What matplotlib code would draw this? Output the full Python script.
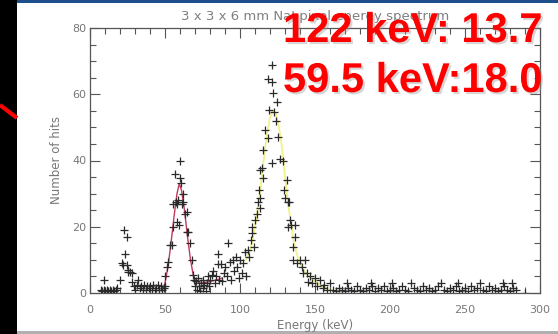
import matplotlib
matplotlib.use("Agg")
import matplotlib.pyplot as plt
import matplotlib.patheffects as pe
from matplotlib.patches import Rectangle
from matplotlib.lines import Line2D
from matplotlib.ticker import MultipleLocator

energy = [7, 8, 9, 9.5, 10, 11, 12, 13, 14, 15, 16, 17, 18,
          20, 21.5, 22, 22.9, 23.3, 24.4, 24.4, 25, 25.3, 26.7, 27.8, 28,
          29, 30, 31, 32, 33, 34, 35, 36, 37, 38, 39, 40, 41, 42, 43, 44,
          45, 46, 47, 48, 49, 50,
          50, 51.6, 52, 53.3, 54.4, 55, 55.6, 56.7, 57, 57.8, 58.2, 58.5,
          59, 60, 60, 60.7, 61, 61.8, 62, 63.3, 64.4, 64.9, 65.5, 66.7,
          67.8, 68.9, 69.5,
          70, 70.5, 71, 72, 72.5, 73, 74, 75, 75.5, 76, 77, 78, 78.5, 79,
          80, 81, 82.2, 83, 84, 85, 85.5, 86, 87, 88, 89, 90, 91, 92.2,
          93.3, 94, 95, 96, 97, 98, 99, 100, 101, 102, 103.3, 104, 105,
          106, 107, 107.8, 108, 109, 110, 111, 112.2,
          112.9, 113.3, 113.3, 113.3, 114.4, 115.1, 115.6, 116.7, 118.9,
          118.9, 119.6, 121.1, 121, 121.1, 121.8, 122.7, 124, 124.9, 125.6,
          126.7, 128.9, 129, 130, 131, 132, 132.9, 133.3, 132, 134, 136.7,
          136.7, 135.6, 135.6, 137.8, 140, 141.1, 142, 143.3, 144.4, 145,
          146.7, 148, 150, 151, 153.3, 155, 156, 158, 160,
          162, 164, 166, 168, 170, 171, 172, 174, 176, 178, 180, 182, 184,
          186, 187, 188, 190, 192, 194, 196, 198, 200, 201, 202, 204, 206,
          208, 210, 212, 214, 216, 218, 220, 222, 224, 226, 228, 230, 232,
          234, 236, 238, 240, 242, 244, 245, 246, 248, 250, 252, 254, 256,
          258, 260, 262, 264, 266, 268, 270, 272, 274, 275, 276, 278, 280,
          281, 282, 284, 290]
hits = [1, 0.5, 1, 4, 0.5, 1, 0.5, 1, 0.5, 1, 0.5, 1, 1.5,
        4, 9, 8.5, 19, 11.7, 17, 8.5, 7, 6.4, 6.3, 3.3, 6,
        2, 1, 2.5, 4, 1.5, 2, 1, 2.5, 1, 2, 1.5, 2, 1, 2.5, 1, 1.5,
        2.5, 1, 2, 1, 1.5, 2,
        5, 8, 9.5, 14.5, 14.5, 20, 27, 36, 27.5, 21.5, 26.8, 28,
        20.5, 40, 34.6, 33.3, 27, 30, 27.5, 24, 24.5, 18.5, 18.5, 15,
        10, 5.4, 4,
        2, 3.5, 1, 4.5, 2, 0.5, 3, 1.5, 4, 2.5, 0.5, 3, 5, 2,
        4, 5.4, 6.6, 3, 5, 8.7, 11.7, 4, 8.7, 3.5, 6, 8, 5, 15,
        9.5, 4, 10, 6.5, 11, 8, 4.5, 10, 6, 9, 12.5, 5, 13,
        11, 16, 20, 18, 14, 22, 24, 27.6,
        31, 25.6, 28.6, 37, 37.6, 43.2, 34.6, 49.2, 46.7,
        64.5, 55.2, 68.8, 63.8, 39.3, 60.5, 54.7, 52, 57.8, 47.2,
        40.6, 40, 31, 28.6, 34.1, 27.6, 27.6, 22, 20, 20.5, 20.5,
        17, 13.8, 10, 9, 10, 8, 6, 10, 6, 3.4,
        5, 3, 4.4, 2, 4, 1.5, 2.5, 1, 3,
        1, 0.5, 1.5, 1, 0.5, 3, 1.5, 1, 0.5, 2, 1, 0.5, 1.5,
        1, 3, 2, 0.5, 1.5, 1, 2, 0.5, 1, 3, 1.5, 0.5, 1,
        2, 1, 0.5, 3, 1.5, 1, 0.5, 2, 1, 1.5, 0.5, 1, 2,
        3, 1, 0.5, 1.5, 1, 2, 3, 0.5, 1, 1.5, 0.5, 2, 1,
        1.5, 3, 1, 0.5, 2, 1, 1.5, 0.5, 1, 3, 2, 1, 0.5,
        3, 1.5, 1, 0]

# gaussian fit curves
fit59_e = [48, 50, 52, 54, 56, 58, 59.5, 61, 63, 65, 67, 69, 71, 75, 80, 85, 88]
fit59_y = [0.5, 3, 8, 15, 23, 30, 33, 31, 25, 17, 10, 5, 3, 3, 3.5, 4, 4.5]
fit122_e = [104, 106, 108, 110, 112, 114, 116, 118, 120, 122, 124, 126, 128,
            130, 132, 134, 136, 139, 142, 146, 150, 155, 160, 166]
fit122_y = [10, 12, 15, 20, 26, 33, 41, 48, 53, 55, 54, 50, 44,
            35, 27, 21, 15, 10, 7, 5, 3.5, 2, 1, 0.3]

resolution_lines = ["122 keV: 13.7", "59.5 keV:18.0"]

W, H = 558, 334
fig = plt.figure(figsize=(W / 100, H / 100), dpi=100)
fig.patch.set_facecolor("white")

# slide decoration around the screenshot
fig.add_artist(Rectangle((0, 0), 17 / W, 1, transform=fig.transFigure,
                         facecolor="black", edgecolor="none", zorder=-5))
fig.add_artist(Rectangle((17 / W, 1 - 3 / H), 1, 3 / H, transform=fig.transFigure,
                         facecolor="#1f4e8c", edgecolor="none", zorder=-5))
fig.add_artist(Rectangle((17 / W, 0), 1, 3 / H, transform=fig.transFigure,
                         facecolor="#b0b0b0", edgecolor="none", zorder=-5))
fig.add_artist(Line2D([0, 17 / W], [1 - 105 / H, 1 - 118 / H], transform=fig.transFigure,
                      color="#ff0000", lw=3, solid_capstyle="butt"))

ax = fig.add_axes([90 / W, 1 - 293 / H, 450 / W, 265 / H])
ax.plot(fit59_e, fit59_y, color="#c03a5c", lw=1.0, zorder=1)
ax.plot(fit122_e, fit122_y, color="#f0f28a", lw=1.3, zorder=1)
ax.plot(energy, hits, linestyle="none", marker="+", ms=5.5, mew=0.9,
        color="#2a2a2a", zorder=2)

ax.set_xlim(0, 300)
ax.set_ylim(0, 80)
ax.xaxis.set_major_locator(MultipleLocator(50))
ax.xaxis.set_minor_locator(MultipleLocator(10))
ax.yaxis.set_major_locator(MultipleLocator(20))
ax.yaxis.set_minor_locator(MultipleLocator(5))
ax.tick_params(which="both", direction="in", top=True, right=True,
               color="#555555", labelcolor="#777777", labelsize=8)
ax.tick_params(which="major", length=7, width=0.8)
ax.tick_params(which="minor", length=4, width=0.8)
ax.tick_params(axis="x", pad=8.5)
ax.tick_params(axis="y", pad=2.5)
for s in ax.spines.values():
    s.set_color("#555555")
    s.set_linewidth(0.9)

ax.set_xlabel("Energy (keV)", fontsize=8.5, color="#777777", labelpad=3)
ax.set_ylabel("Number of hits", fontsize=8.5, color="#777777", labelpad=7)
ax.set_title("3 x 3 x 6 mm NaI pixel energy spectrum", fontsize=9.5,
             color="#808080", pad=6)

shadow = [pe.withSimplePatchShadow(offset=(1.5, -1.5), shadow_rgbFace="#999999", alpha=0.4)]
for i, line in enumerate(resolution_lines):
    fig.text(283 / W, 1 - (42 + 50 * i) / H, line, fontsize=30, fontweight="bold",
             family="Liberation Sans", color="#ff0000", ha="left", va="baseline",
             path_effects=shadow)

fig.savefig("out.png", dpi=100)
